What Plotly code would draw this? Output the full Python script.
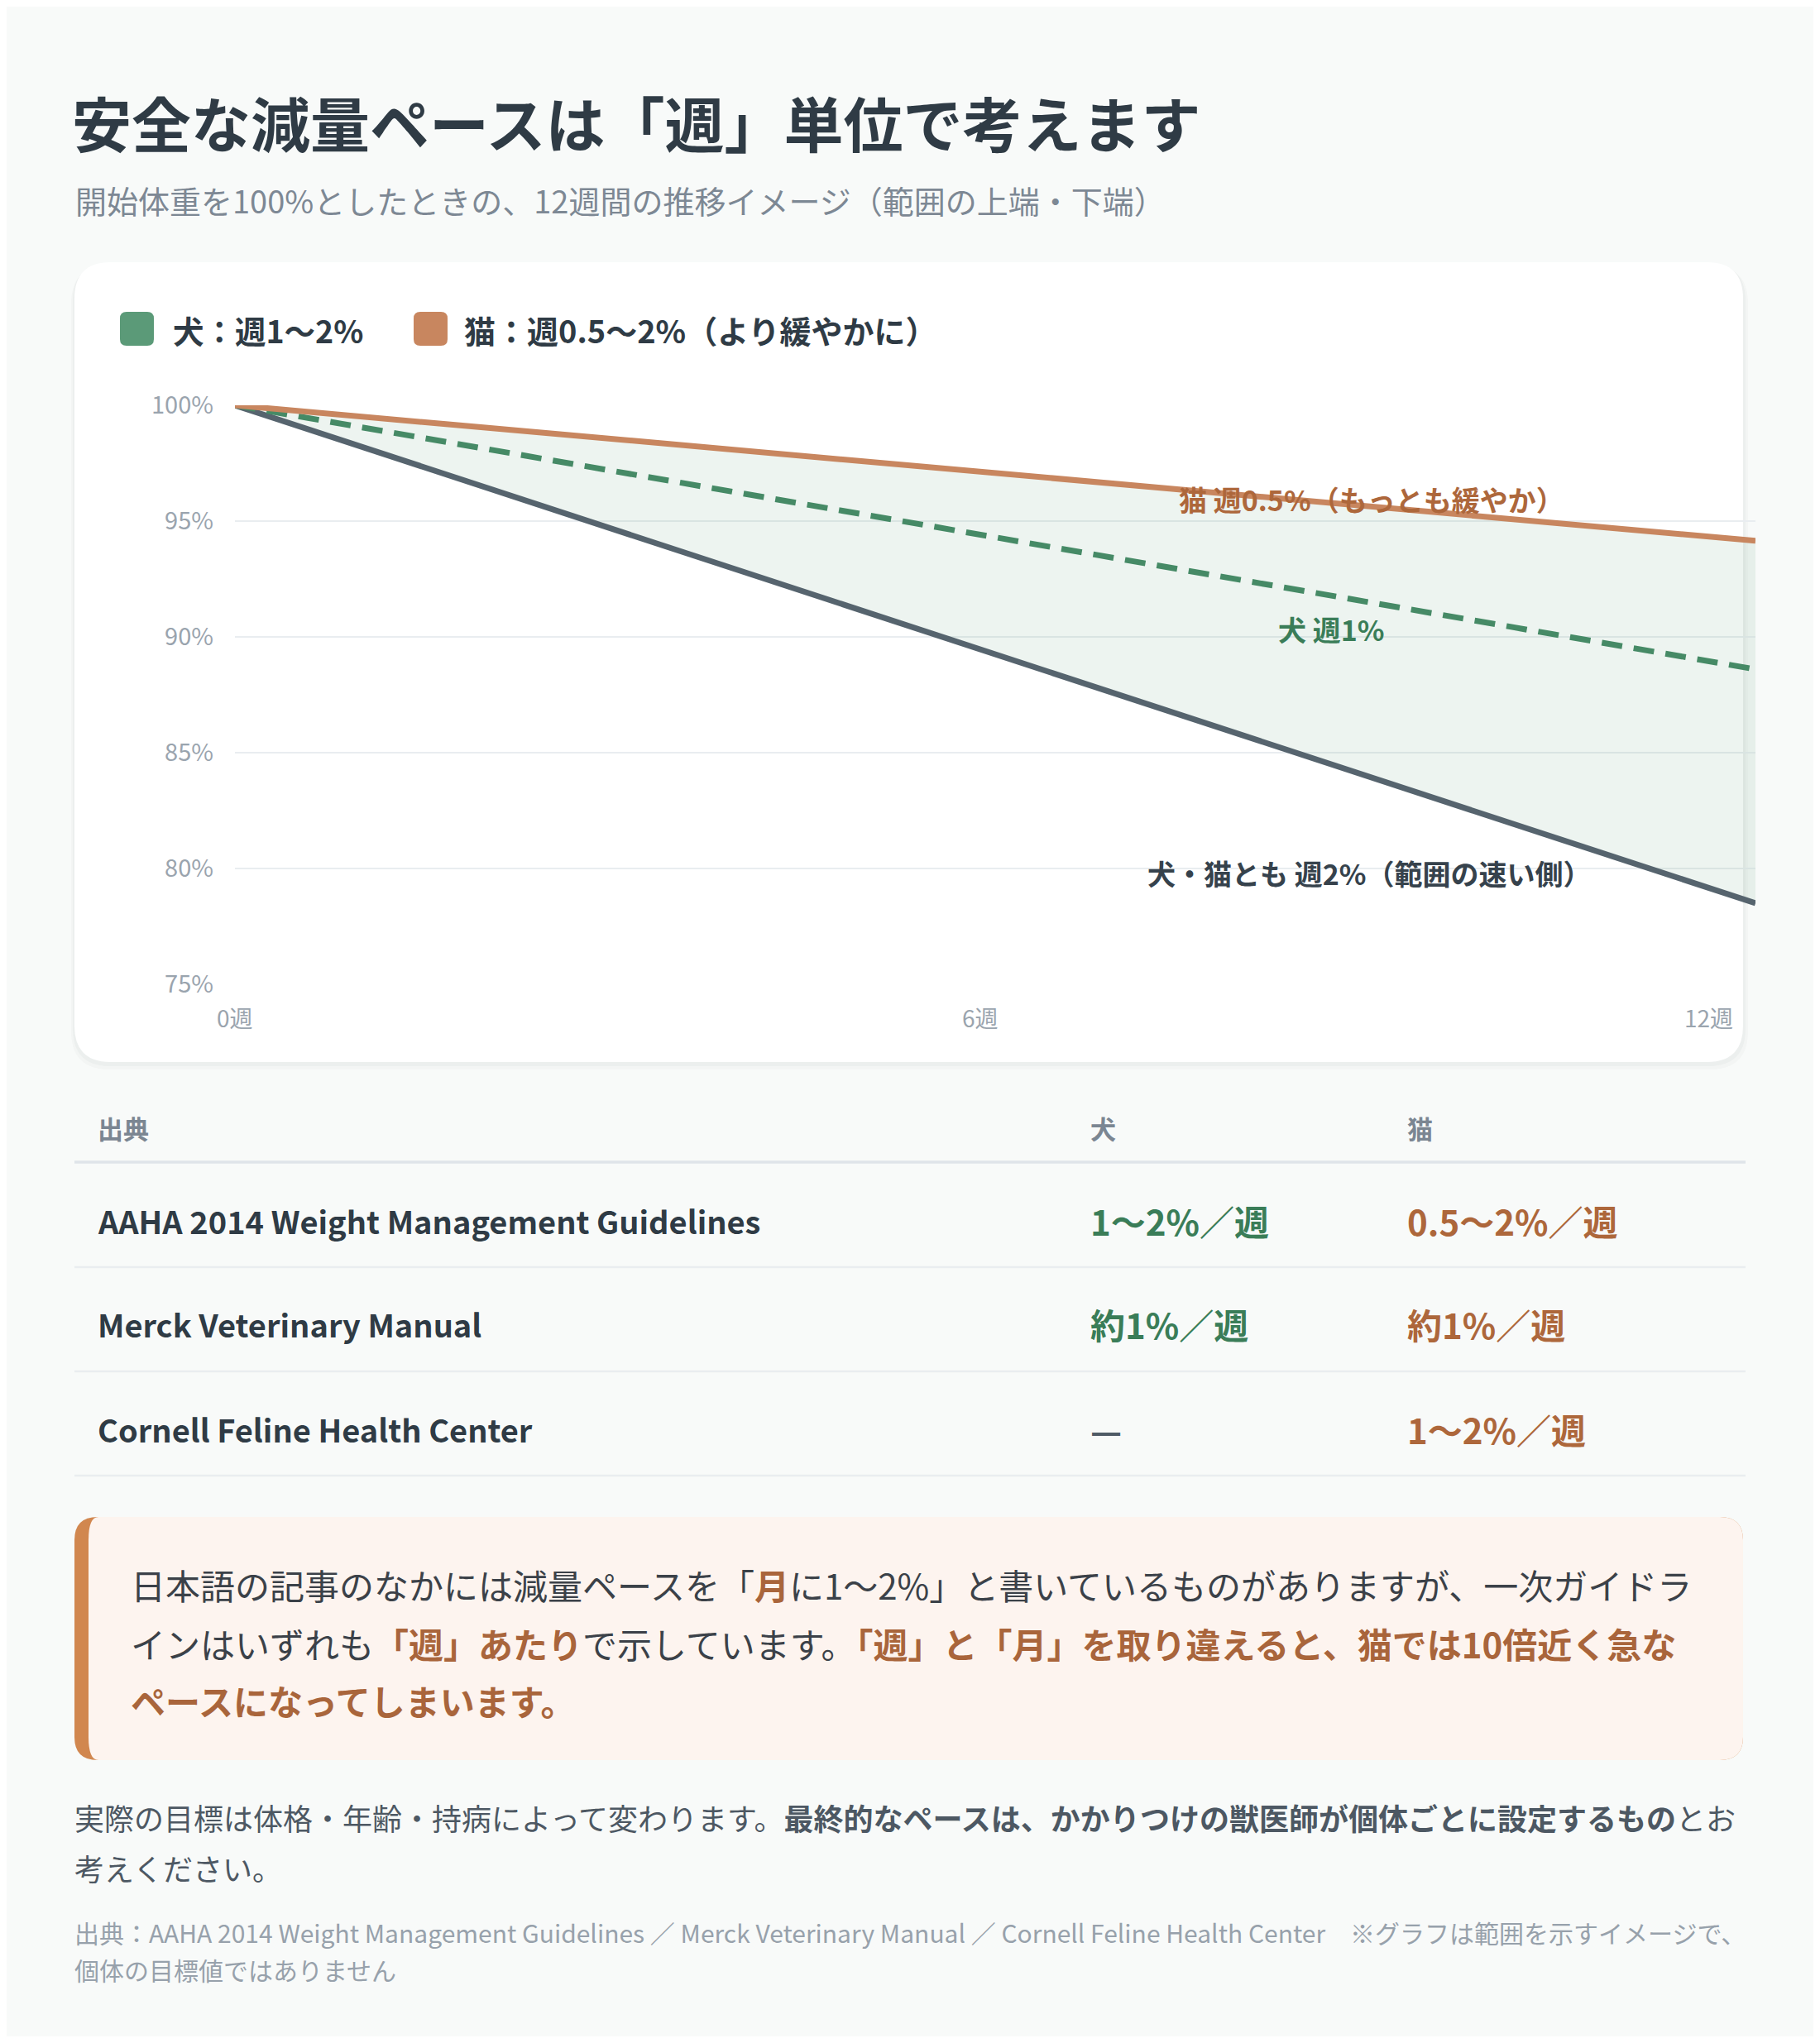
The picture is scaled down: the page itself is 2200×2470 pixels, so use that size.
import plotly.graph_objects as go

# page is 2200x2470; the html body adds an 8px margin, so the figure is 16px smaller
PAGE_W, PAGE_H = 2200, 2470
OX, OY = 8, 8
W, H = PAGE_W - 2 * OX, PAGE_H - 2 * OY
FONT = "Noto Sans CJK JP"

# chart data (percent of starting weight)
weeks = [0, 12]
cat_slow = [100, 94.15]    # 猫 週0.5%
dog_mid = [100, 88.6]      # 犬 週1%
fast_both = [100, 78.5]    # 犬・猫 週2%

y_ticks = [75, 80, 85, 90, 95, 100]
y_tick_labels = ["75%", "80%", "85%", "90%", "95%", "100%"]
x_ticks = [0, 6, 12]
x_tick_labels = ["0週", "6週", "12週"]

legend_labels = ["犬：週1〜2%", "猫：週0.5〜2%（より緩やかに）"]
line_labels = ["猫 週0.5%（もっとも緩やか）", "犬 週1%", "犬・猫とも 週2%（範囲の速い側）"]

# table
table_header = ["出典", "犬", "猫"]
sources = ["AAHA 2014 Weight Management Guidelines", "Merck Veterinary Manual",
           "Cornell Feline Health Center"]
dog_rates = ["1〜2%／週", "約1%／週", "—"]
cat_rates = ["0.5〜2%／週", "約1%／週", "1〜2%／週"]

GREEN = "#468a66"
GREEN_TXT = "#3a7d58"
ORANGE = "#c8865f"
ORANGE_TXT = "#ad673b"
DARK = "#2f3b45"
SLATE = "#56646e"
HL = "#a9653b"


def px(x):
    return (x - OX) / W


def py(y):
    return 1 - (y - OY) / H


def rrect(x0, y0, x1, y1, rl, rr=None):
    # rounded rectangle in page pixels -> paper path; rl/rr = (rx, ry)
    rr = rr or rl
    lx, ly = rl
    rx, ry = rr
    pts = [
        ("M", (x0 + lx, y0)),
        ("L", (x1 - rx, y0)),
        ("Q", (x1, y0), (x1, y0 + ry)),
        ("L", (x1, y1 - ry)),
        ("Q", (x1, y1), (x1 - rx, y1)),
        ("L", (x0 + lx, y1)),
        ("Q", (x0, y1), (x0, y1 - ly)),
        ("L", (x0, y0 + ly)),
        ("Q", (x0, y0), (x0 + lx, y0)),
    ]
    out = []
    for p in pts:
        coords = " ".join(f"{px(a):.5f},{py(b):.5f}" for a, b in p[1:])
        out.append(f"{p[0]} {coords}")
    return " ".join(out) + " Z"


def shape(path, color, layer="below"):
    return dict(type="path", xref="paper", yref="paper", path=path,
                fillcolor=color, line=dict(width=0), layer=layer)


def hline(x0, x1, y, color, width):
    return dict(type="line", xref="paper", yref="paper", x0=px(x0), x1=px(x1),
                y0=py(y), y1=py(y), line=dict(color=color, width=width), layer="below")


def label(x, y, s, size, color, weight=400, xanchor="left"):
    return dict(x=px(x), y=py(y), xref="paper", yref="paper", text=s, showarrow=False,
                xanchor=xanchor, yanchor="middle", align="left",
                font=dict(family=FONT, size=size, color=color, weight=weight))


fig = go.Figure()

# band between slowest and fastest pace
fig.add_trace(go.Scatter(x=weeks, y=cat_slow, mode="lines", line=dict(width=0),
                         hoverinfo="skip", showlegend=False))
fig.add_trace(go.Scatter(x=weeks, y=fast_both, mode="lines", line=dict(width=0),
                         fill="tonexty", fillcolor="rgba(91,154,120,0.11)",
                         hoverinfo="skip", showlegend=False))
fig.add_trace(go.Scatter(x=weeks, y=fast_both, mode="lines",
                         line=dict(color=SLATE, width=7), showlegend=False))
fig.add_trace(go.Scatter(x=weeks, y=dog_mid, mode="lines",
                         line=dict(color=GREEN, width=7, dash="25px,14px"), showlegend=False))
fig.add_trace(go.Scatter(x=weeks, y=cat_slow, mode="lines",
                         line=dict(color=ORANGE, width=7), showlegend=False))

shapes = [
    # page background
    dict(type="rect", xref="paper", yref="paper", x0=-0.01, x1=1.01, y0=-0.01, y1=1.01,
         fillcolor="#f8faf9", line=dict(width=0), layer="below"),
    # card with soft shadow
    shape(rrect(86, 321, 2113, 1293, (46, 46)), "rgba(40,60,50,0.025)"),
    shape(rrect(88, 319, 2110, 1289, (45, 45)), "rgba(40,60,50,0.03)"),
    shape(rrect(90, 317, 2107, 1284, (44, 44)), "#ffffff"),
    # legend swatches
    shape(rrect(145, 377, 186, 418, (8, 8)), "#5b9a78"),
    shape(rrect(500, 377, 541, 418, (8, 8)), ORANGE),
    # table rules
    hline(90, 2110, 1405, "#dfe4e9", 3.5),
    hline(90, 2110, 1532, "#e9edf0", 2.5),
    hline(90, 2110, 1658, "#e9edf0", 2.5),
    hline(90, 2110, 1784, "#e9edf0", 2.5),
    # callout box
    shape(rrect(90, 1834, 2107, 2128, (28, 28)), "#d1874f"),
    shape(rrect(107, 1834, 2107, 2128, (12, 28), (28, 28)), "#fdf4ef"),
]

ann = [
    label(85, 147, "安全な減量ペースは「週」単位で考えます", 72, DARK, 700),
    label(89, 242, "開始体重を100%としたときの、12週間の推移イメージ（範囲の上端・下端）", 38, "#7d8894"),
    label(207, 398, legend_labels[0], 37.5, DARK, 700),
    label(559, 398, legend_labels[1], 38, DARK, 700),
    label(1658, 603, line_labels[0], 34, ORANGE_TXT, 700, "center"),
    label(1610, 760, line_labels[1], 34, GREEN_TXT, 700, "center"),
    label(1655, 1055, line_labels[2], 34, "#36424c", 700, "center"),
]

# x tick labels
for i, (xv, txt) in enumerate(zip(x_ticks, x_tick_labels)):
    anchor = "right" if i == len(x_ticks) - 1 else "center"
    shift = [0, -18, -25][i]
    ann.append(dict(x=xv, y=py(1230), xref="x", yref="paper", text=txt, showarrow=False,
                    xanchor=anchor, yanchor="middle", xshift=shift,
                    font=dict(family=FONT, size=28, color="#9aa4ae")))

# table
col_x = [116, 1316, 1699]
for cx, h in zip(col_x, table_header):
    ann.append(label(cx, 1363, h, 31, "#7b8692", 700))
row_y = [1475, 1600, 1727]
for ry, s, d, c in zip(row_y, sources, dog_rates, cat_rates):
    ann.append(label(col_x[0], ry, s, 38, DARK, 700))
    ann.append(label(col_x[1], ry, d, 42, GREEN_TXT if d != "—" else "#4f5b66", 700))
    ann.append(label(col_x[2], ry, c, 42, ORANGE_TXT, 700))

# callout text
hl = f"<span style='color:{HL}'><b>%s</b></span>"
callout = [
    "日本語の記事のなかには減量ペースを「" + hl % "月" + "に1〜2%」と書いているものがありますが、一次ガイドラ",
    "インはいずれも" + hl % "「週」あたり" + "で示しています。" + hl % "「週」と「月」を取り違えると、猫では10倍近く急な",
    hl % "ペースになってしまいます。",
]
for ly, s in zip([1915, 1986, 2055], callout):
    ann.append(label(156, ly, s, 42, "#3b4148"))

# closing note and sources
ann.append(label(88, 2197, "実際の目標は体格・年齢・持病によって変わります。"
                 "<b>最終的なペースは、かかりつけの獣医師が個体ごとに設定するもの</b>とお",
                 36, "#4d5863"))
ann.append(label(88, 2258, "考えください。", 36, "#4d5863"))
ann.append(label(88, 2336, "出典：AAHA 2014 Weight Management Guidelines ／ Merck Veterinary Manual ／ "
                 "Cornell Feline Health Center\u3000※グラフは範囲を示すイメージで、", 30, "#97a1ab"))
ann.append(label(88, 2381, "個体の目標値ではありません", 30, "#97a1ab"))

fig.update_layout(
    width=W, height=H, autosize=False,
    margin=dict(l=0, r=0, t=0, b=0, pad=0, autoexpand=False),
    paper_bgcolor="#f8faf9", plot_bgcolor="rgba(0,0,0,0)",
    font=dict(family=FONT),
    shapes=shapes, annotations=ann,
    showlegend=False, hovermode=False,
    xaxis=dict(domain=[px(284), px(2122)], range=[0, 12], showgrid=False, automargin=False,
               zeroline=False, showline=False, showticklabels=False, fixedrange=True),
    yaxis=dict(domain=[py(1190), py(490)], range=[75, 100], tickvals=y_ticks, automargin=False,
               ticktext=y_tick_labels, showgrid=True, gridcolor="#e9edf0", gridwidth=2,
               zeroline=False, showline=False, ticks="", ticklabelstandoff=25,
               tickfont=dict(family=FONT, size=29, color="#9aa4ae"), fixedrange=True),
)

fig.write_html("out.html", config={"displayModeBar": False})
